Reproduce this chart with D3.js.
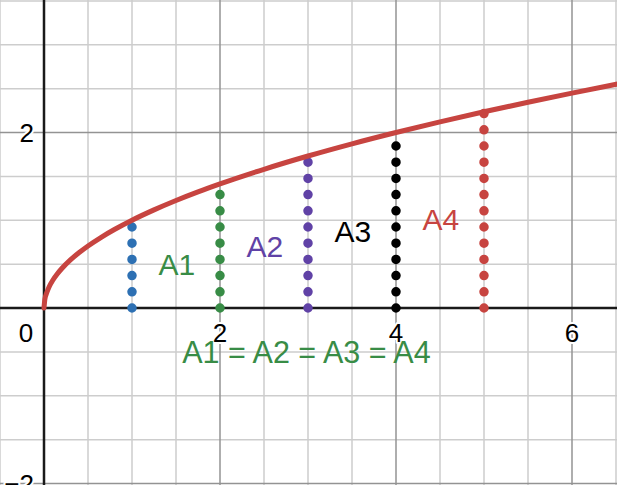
<!DOCTYPE html>
<html>
<head>
<meta charset="utf-8">
<script src="https://cdn.jsdelivr.net/npm/d3@7/dist/d3.min.js"></script>
<style>
  html, body { margin: 0; padding: 0; background: #fff; }
  svg { display: block; }
  text { font-family: "Liberation Sans", Arial, sans-serif; }
</style>
</head>
<body>
<svg id="chart" width="617" height="485"></svg>
<script>
// ---- data ----
const curveX = [0, 0.01, 0.03, 0.06, 0.1, 0.15, 0.2, 0.3, 0.4, 0.5, 0.65, 0.8, 1, 1.25, 1.5, 1.75, 2, 2.5, 3, 3.5, 4, 4.5, 5, 5.5, 6, 6.6];
const curveY = [0, 0.10, 0.17, 0.245, 0.316, 0.387, 0.447, 0.548, 0.632, 0.707, 0.806, 0.894, 1, 1.118, 1.225, 1.323, 1.414, 1.581, 1.732, 1.871, 2, 2.121, 2.236, 2.345, 2.449, 2.569];

const stripX     = [1, 2, 3, 4, 5];
const stripTop   = [1, 1.41, 1.73, 2, 2.24];
const stripColor = ["#2d70b3", "#388c46", "#6042a6", "#000000", "#c74440"];

const labelText  = ["A1", "A2", "A3", "A4"];
const labelX     = [1.30, 2.30, 3.30, 4.30];
const labelY     = [0.38, 0.585, 0.75, 0.885];
const labelColor = ["#388c46", "#6042a6", "#000000", "#c74440"];

const equationText = "A1 = A2 = A3 = A4";
const equationPos  = [1.57, -0.63];

const xTickValues = [0, 2, 4, 6];
const yTickValues = [2, -2];

// ---- setup ----
const W = 617, H = 485;
const svg = d3.select("#chart");
const x = d3.scaleLinear().domain([0, 1]).range([44, 132]);
const y = d3.scaleLinear().domain([0, 1]).range([308, 220.25]);

// grid
const gx = d3.range(-0.5, 6.51, 0.5);
const gy = d3.range(-2, 3.51, 0.5);
const isMajor = v => Math.abs(v % 2) < 1e-9;

svg.append("g").selectAll("line").data(gx.filter(v => !isMajor(v))).join("line")
  .attr("x1", d => x(d)).attr("x2", d => x(d)).attr("y1", 0).attr("y2", H)
  .attr("stroke", "#cdcdcd").attr("stroke-width", 1.5);
svg.append("g").selectAll("line").data(gy.filter(v => !isMajor(v))).join("line")
  .attr("y1", d => y(d)).attr("y2", d => y(d)).attr("x1", 0).attr("x2", W)
  .attr("stroke", "#cdcdcd").attr("stroke-width", 1.5);
svg.append("g").selectAll("line").data(gx.filter(v => isMajor(v) && v !== 0)).join("line")
  .attr("x1", d => x(d)).attr("x2", d => x(d)).attr("y1", 0).attr("y2", H)
  .attr("stroke", "#939393").attr("stroke-width", 1.5);
svg.append("g").selectAll("line").data(gy.filter(v => isMajor(v) && v !== 0)).join("line")
  .attr("y1", d => y(d)).attr("y2", d => y(d)).attr("x1", 0).attr("x2", W)
  .attr("stroke", "#939393").attr("stroke-width", 1.5);

// axes
svg.append("line").attr("x1", 0).attr("x2", W).attr("y1", y(0)).attr("y2", y(0))
  .attr("stroke", "#1a1a1a").attr("stroke-width", 2.5);
svg.append("line").attr("x1", x(0)).attr("x2", x(0)).attr("y1", 0).attr("y2", H)
  .attr("stroke", "#1a1a1a").attr("stroke-width", 2.5);

// tick labels
const tickG = svg.append("g").attr("font-size", 26).attr("fill", "#000")
  .attr("stroke", "#fff").attr("stroke-width", 4).attr("paint-order", "stroke")
  .attr("stroke-linejoin", "round");
tickG.selectAll("text.xt").data(xTickValues).join("text").attr("class", "xt")
  .attr("x", d => d === 0 ? x(0) - 18 : x(d))
  .attr("y", y(0) + 34)
  .attr("text-anchor", "middle")
  .text(d => d);
tickG.selectAll("text.yt").data(yTickValues).join("text").attr("class", "yt")
  .attr("x", x(0) - 10)
  .attr("y", d => y(d) + 9)
  .attr("text-anchor", "end")
  .text(d => d < 0 ? "\u2212" + String(-d) : String(d));

// dotted strips
const strips = stripX.map((v, i) => ({ x: v, top: stripTop[i], color: stripColor[i] }));
svg.append("g").selectAll("line").data(strips).join("line")
  .attr("x1", d => x(d.x)).attr("x2", d => x(d.x))
  .attr("y1", y(0)).attr("y2", d => y(d.top))
  .attr("stroke", d => d.color)
  .attr("stroke-width", 9.5)
  .attr("stroke-linecap", "round")
  .attr("stroke-dasharray", "0 16.2");

// curve
const curvePts = curveX.map((v, i) => [v, curveY[i]]);
svg.append("path")
  .datum(curvePts)
  .attr("d", d3.line().x(d => x(d[0])).y(d => y(d[1])).curve(d3.curveMonotoneX))
  .attr("fill", "none")
  .attr("stroke", "#c74440")
  .attr("stroke-width", 5)
  .attr("stroke-linecap", "round");

// labels
svg.append("g").selectAll("text").data(labelText).join("text")
  .attr("x", (d, i) => x(labelX[i]))
  .attr("y", (d, i) => y(labelY[i]))
  .attr("font-size", 30)
  .attr("fill", (d, i) => labelColor[i])
  .text(d => d);

svg.append("text")
  .attr("x", x(equationPos[0]))
  .attr("y", y(equationPos[1]))
  .attr("font-size", 30.5)
  .attr("fill", "#388c46")
  .text(equationText);
</script>
</body>
</html>
